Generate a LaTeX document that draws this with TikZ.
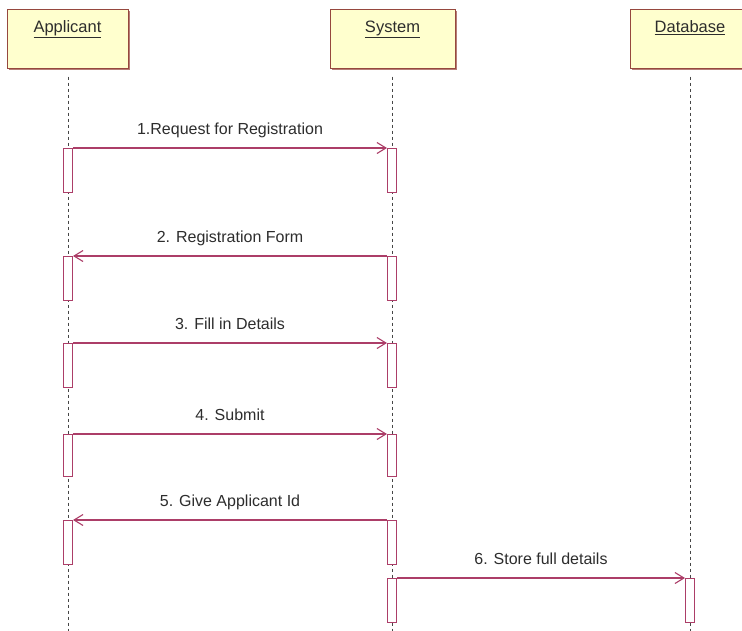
\documentclass[tikz,border=0pt]{standalone}
\usepackage{fontspec}
\setmainfont{Liberation Sans}
\usetikzlibrary{arrows.meta,shadows}
\definecolor{msgcol}{RGB}{172,62,104}
\definecolor{boxborder}{RGB}{150,72,62}
\definecolor{boxfill}{RGB}{255,255,206}
\definecolor{txtcol}{RGB}{45,45,45}
\definecolor{lifecol}{RGB}{70,70,70}
\tikzset{
  actor/.style={draw=boxborder, line width=1pt, fill=boxfill, rectangle, inner sep=0pt,
    minimum height=59pt, drop shadow={shadow xshift=1.5pt, shadow yshift=-1.8pt, fill=boxborder, opacity=0.7}},
  actortext/.style={anchor=base, inner sep=0pt, text=txtcol, font=\fontsize{16.5}{19}\selectfont},
  lifeline/.style={draw=lifecol, line width=0.9pt, dash pattern=on 3pt off 3pt},
  act/.style={draw=msgcol, line width=1pt, fill=white, rectangle, inner sep=0pt,
    minimum width=9pt, minimum height=44pt, anchor=north},
  msg/.style={draw=msgcol, line width=1.1pt, -{Straight Barb[length=9pt,width=11pt,line width=1.1pt]}},
  msglabel/.style={anchor=base, inner sep=0pt, text=txtcol, font=\fontsize{16}{19}\selectfont},
}
\begin{document}
\begin{tikzpicture}[x=1pt,y=-1pt]
\useasboundingbox (0,0) rectangle (742,630);
\clip (0,0) rectangle (742,630);
\fill[white] (0,0) rectangle (742,630);

% actors
\node[actor, minimum width=121pt] (hA) at (67.5,38.5) {};
\node[actor, minimum width=125pt] (hS) at (392.5,38.5) {};
\node[actor, minimum width=120pt] (hD) at (690,38.5) {};
\node[actortext] (tA) at ([yshift=-24pt]hA.north) {\underline{Applicant}};
\node[actortext] (tS) at ([yshift=-24pt]hS.north) {\underline{System}};
\node[actortext] (tD) at ([yshift=-24pt]hD.north) {\underline{Database}};

% lifeline ends
\coordinate (eA) at (68,632);
\coordinate (eS) at (392,632);
\coordinate (eD) at (690,632);
\draw[lifeline] ([yshift=-8pt]hA.south -| eA) -- (eA);
\draw[lifeline] ([yshift=-8pt]hS.south -| eS) -- (eS);
\draw[lifeline] ([yshift=-8pt]hD.south -| eD) -- (eD);

% activations
\node[act] (a1) at (68,148) {};
\node[act] (s1) at (392,148) {};
\node[act] (a2) at (68,256) {};
\node[act] (s2) at (392,256) {};
\node[act] (a3) at (68,343) {};
\node[act] (s3) at (392,343) {};
\node[act, minimum height=42pt] (a4) at (68,434) {};
\node[act, minimum height=42pt] (s4) at (392,434) {};
\node[act] (a5) at (68,520) {};
\node[act] (s5) at (392,520) {};
\node[act] (s6) at (392,578) {};
\node[act] (d6) at (690,578) {};

% messages
\draw[msg] (a1.north east) -- (s1.north west)
  node[msglabel, pos=0.5, yshift=14pt] (m1) {1.Request for Registration};
\draw[msg] (s2.north west) -- (a2.north east)
  node[msglabel, pos=0.5, yshift=14pt] (m2) {2. Registration Form};
\draw[msg] (a3.north east) -- (s3.north west)
  node[msglabel, pos=0.5, yshift=14pt] (m3) {3. Fill in Details};
\draw[msg] (a4.north east) -- (s4.north west)
  node[msglabel, pos=0.5, yshift=14pt] (m4) {4. Submit};
\draw[msg] (s5.north west) -- (a5.north east)
  node[msglabel, pos=0.5, yshift=14pt] (m5) {5. Give Applicant Id};
\draw[msg] (s6.north east) -- (d6.north west)
  node[msglabel, pos=0.5, yshift=14pt] (m6) {6. Store full details};
\end{tikzpicture}
\end{document}
